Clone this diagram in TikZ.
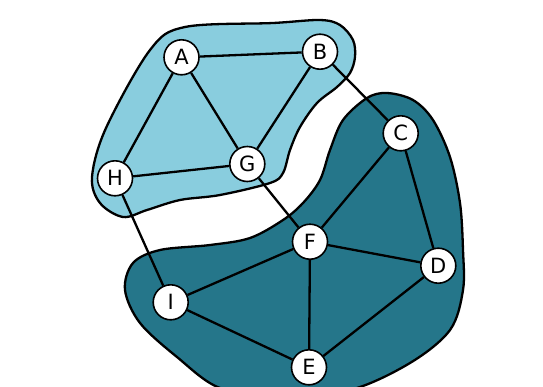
\documentclass[tikz,border=0pt]{standalone}
\usepackage{fontspec}
\setmainfont{DejaVu Sans}
\definecolor{lightgroup}{HTML}{89CDDE}
\definecolor{darkgroup}{HTML}{25768A}
\begin{document}
\begin{tikzpicture}[x=1pt,y=-1pt,
  vertex/.style={circle,draw=black,fill=white,line width=1.6pt,minimum size=35pt,inner sep=0pt,font=\fontsize{21}{21}\selectfont},
  edge/.style={line width=2.3pt},
  blob/.style={line width=2.3pt,draw=black}]
\useasboundingbox (0,0) rectangle (543,386);
\clip (0,0) rectangle (543,386);
% upper cluster outline
\draw[blob,fill=lightgroup] plot[smooth cycle,tension=0.55] coordinates {
  (150,50) (185,27) (273,23) (320,20) (340,25) (353,40) (355,57) (350,73)
  (337,87) (317,103) (300,127) (290,150) (283,173) (270,183) (220,195)
  (180,200) (147,210) (123,217) (100,203) (92,177) (106,128)};
% lower cluster outline
\draw[blob,fill=darkgroup] plot[smooth cycle,tension=0.55] coordinates {
  (387,93) (413,100) (433,120) (450,157) (460,203) (463,250) (463,290)
  (450,330) (410,363) (350,390) (280,395) (220,388) (177,357) (140,323)
  (125,290) (133,263) (160,250) (210,245) (250,238) (283,220) (303,203)
  (320,180) (330,150) (343,120) (367,98)};
% vertices
\node[vertex] (A) at (181.5,57.3) {A};
\node[vertex] (B) at (320,51.7) {B};
\node[vertex] (C) at (400.7,133.3) {C};
\node[vertex] (D) at (438.3,265.7) {D};
\node[vertex] (E) at (309,367.3) {E};
\node[vertex] (F) at (310,241.7) {F};
\node[vertex] (G) at (247.3,164) {G};
\node[vertex] (H) at (115,178.3) {H};
\node[vertex] (I) at (170.7,302.3) {I};
% edges between vertices
\foreach \u/\v in {A/B,A/G,A/H,B/G,B/C,G/H,G/F,H/I,C/F,C/D,F/D,F/I,F/E,I/E,D/E}
  \draw[edge] (\u) -- (\v);
\end{tikzpicture}
\end{document}
